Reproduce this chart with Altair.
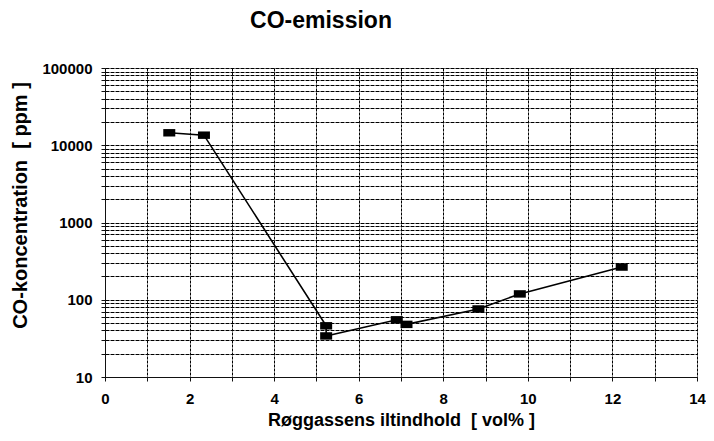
import altair as alt
import pandas as pd

# data
oxygen = [1.52, 2.34, 5.23, 5.23, 6.9, 7.13, 8.83, 9.81, 12.22]
co_ppm = [14500, 13500, 46, 34, 55, 48, 76, 119, 265]
order = list(range(len(oxygen)))

x_ticks = list(range(0, 15))
y_ticks = [m * 10 ** e for e in range(1, 5) for m in range(1, 10)] + [100000]
y_labels = [10, 100, 1000, 10000, 100000]

df = pd.DataFrame({"x": oxygen, "y": co_ppm, "o": order})

FONT = "Liberation Sans"
NB = "\u00a0"
PLOT_W = 592

x_enc = alt.X(
    "x:Q",
    scale=alt.Scale(domain=[0, 14], nice=False, zero=False),
    axis=alt.Axis(
        values=x_ticks,
        labelExpr="datum.value % 2 == 0 ? datum.label : ''",
        labelFlush=False,
        title="Røggassens iltindhold" + NB + " [ vol% ]",
        grid=True,
        gridColor="#000",
        gridWidth=1,
        gridDash=[3, 1],
        tickSize=4,
        tickColor="#111",
        labelPadding=10,
        labelFont=FONT,
        labelFontSize=15,
        labelFontWeight="bold",
        labelColor="#000",
        titleFont=FONT,
        titleFontSize=18,
        titleFontWeight="bold",
        titleColor="#000",
        titleX=PLOT_W / 2,
        titleY=43,
        titleBaseline="middle",
        domainColor="#111",
    ),
)

y_enc = alt.Y(
    "y:Q",
    scale=alt.Scale(type="log", domain=[10, 100000], nice=False),
    axis=alt.Axis(
        values=y_ticks,
        format="d",
        labelExpr="indexof([10,100,1000,10000,100000], datum.value) >= 0 ? datum.label : ''",
        title="CO-koncentration" + NB + " [ ppm ]",
        grid=True,
        gridColor="#000",
        gridWidth=1,
        gridDash=[4, 1],
        tickSize=4,
        tickColor="#111",
        labelPadding=9,
        labelFont=FONT,
        labelFontSize=15,
        labelFontWeight="bold",
        labelColor="#000",
        titleFont=FONT,
        titleFontSize=20,
        titleFontWeight="bold",
        titleColor="#000",
        titleAngle=-90,
        titleX=-85,
        titleY=137,
        titleAlign="center",
        titleBaseline="middle",
        domainColor="#111",
    ),
)

line = alt.Chart(df).mark_line(color="#000", strokeWidth=1.6).encode(
    x=x_enc, y=y_enc, order="o:Q"
)
pts = alt.Chart(df).mark_point(
    shape="M-1,-0.62H1V0.62H-1Z", filled=True, color="#000", size=144, opacity=1
).encode(x="x:Q", y="y:Q")

chart = (
    alt.layer(line, pts)
    .properties(
        width=PLOT_W,
        height=309,
        autosize=alt.AutoSizeParams(type="none"),
        padding={"left": 97, "top": 60, "right": 9, "bottom": 56},
        title=alt.TitleParams(
            "CO-emission",
            font=FONT,
            fontSize=23,
            fontWeight="bold",
            color="#000",
            anchor="middle",
            frame="group",
            dx=-80,
            offset=10,
            baseline="alphabetic",
        ),
    )
    .configure_view(stroke=None)
    .configure(background="white")
)

chart.save("out.html", embed_options={"renderer": "svg", "actions": False})
